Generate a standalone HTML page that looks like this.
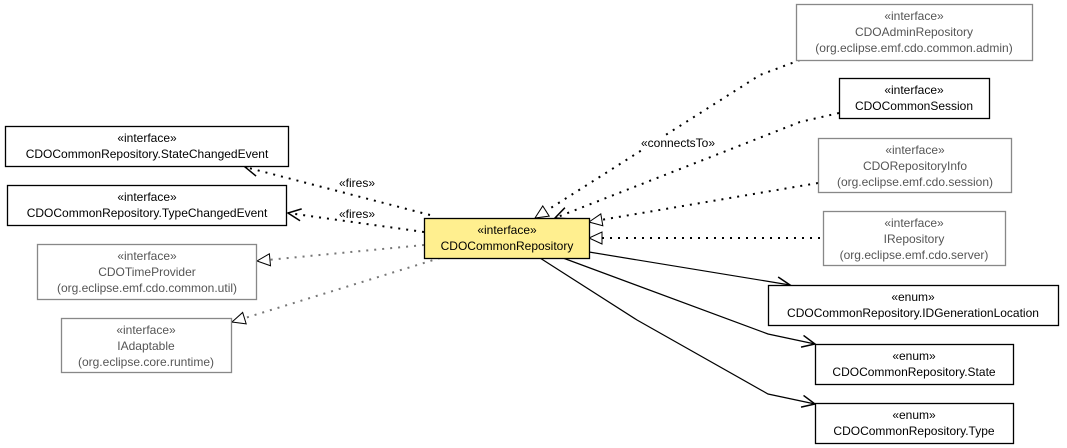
<!DOCTYPE html>
<html><head><meta charset="utf-8"><style>
html,body{margin:0;padding:0;background:#fff;}
svg{display:block;}
text{font-family:"Liberation Sans",sans-serif;font-size:12px;text-anchor:middle;}
</style></head><body>
<svg width="1067" height="448" viewBox="0 0 1067 448" xmlns="http://www.w3.org/2000/svg">
<defs>
<marker id="op" markerWidth="16" markerHeight="14" refX="14" refY="7" orient="auto" markerUnits="userSpaceOnUse">
<path d="M1,1 L14,7 L1,13" fill="none" stroke="#000" stroke-width="1.5"/></marker>
<marker id="tri" markerWidth="16" markerHeight="14" refX="14" refY="7" orient="auto" markerUnits="userSpaceOnUse">
<path d="M1,1 L14,7 L1,13 Z" fill="#fff" stroke="#000" stroke-width="1"/></marker>
</defs>
<g fill="none" stroke="#000" stroke-width="2" stroke-dasharray="2,6">
<line x1="430" y1="215" x2="245" y2="167" marker-end="url(#op)"/>
<line x1="424" y1="232" x2="288" y2="213" marker-end="url(#op)"/>
<line x1="424" y1="245" x2="257" y2="261" marker-end="url(#tri)" stroke="#777"/>
<line x1="440" y1="258" x2="232" y2="322" marker-end="url(#tri)" stroke="#777"/>
<polyline points="800,60 760,75 535,218" marker-end="url(#tri)"/>
<polyline points="839,113 800,122 555,218" marker-end="url(#op)"/>
<line x1="818" y1="183" x2="589" y2="222" marker-end="url(#tri)"/>
<line x1="820" y1="238" x2="589" y2="238" marker-end="url(#tri)"/>
</g>
<g fill="none" stroke="#000" stroke-width="1.2">
<line x1="589" y1="252" x2="790" y2="285" marker-end="url(#op)"/>
<polyline points="563,258 768,334 815,344" marker-end="url(#op)"/>
<polyline points="540,258 637,320 768,394 815,404" marker-end="url(#op)"/>
</g>
<g fill="#fff" stroke="#000" stroke-width="1.3">
<rect x="5.5" y="126.5" width="283" height="40"/>
<rect x="7.5" y="185.5" width="279" height="40"/>
<rect x="839.5" y="78.5" width="150" height="40"/>
<rect x="768.5" y="285.5" width="290" height="40"/>
<rect x="815.5" y="344.5" width="198" height="40"/>
<rect x="815.5" y="403.5" width="198" height="40"/>
</g>
<g fill="#fff" stroke="#888" stroke-width="1.3">
<rect x="37.5" y="244.5" width="219" height="55"/>
<rect x="61.5" y="318.5" width="170" height="54"/>
<rect x="796.5" y="4.5" width="236" height="56"/>
<rect x="818.5" y="138.5" width="193" height="54"/>
<rect x="823.5" y="211.5" width="182" height="54"/>
</g>
<rect x="424.5" y="218.5" width="165" height="40" fill="#ffef8f" stroke="#000" stroke-width="1.3"/>
<rect x="638" y="136" width="80" height="14" fill="#fff"/>
<g fill="#000">
<text x="147" y="142">«interface»</text><text x="147" y="158">CDOCommonRepository.StateChangedEvent</text>
<text x="147" y="201">«interface»</text><text x="147" y="217">CDOCommonRepository.TypeChangedEvent</text>
<text x="507" y="234">«interface»</text><text x="507" y="250">CDOCommonRepository</text>
<text x="914" y="94">«interface»</text><text x="914" y="110">CDOCommonSession</text>
<text x="913" y="301">«enum»</text><text x="913" y="317">CDOCommonRepository.IDGenerationLocation</text>
<text x="914" y="360">«enum»</text><text x="914" y="376">CDOCommonRepository.State</text>
<text x="914" y="419">«enum»</text><text x="914" y="435">CDOCommonRepository.Type</text>
<text x="357" y="187">«fires»</text>
<text x="357" y="218">«fires»</text>
<text x="678" y="147">«connectsTo»</text>
</g>
<g fill="#555">
<text x="147" y="260">«interface»</text><text x="147" y="276">CDOTimeProvider</text><text x="147" y="292">(org.eclipse.emf.cdo.common.util)</text>
<text x="146" y="334">«interface»</text><text x="146" y="350">IAdaptable</text><text x="146" y="366">(org.eclipse.core.runtime)</text>
<text x="914" y="20">«interface»</text><text x="914" y="36">CDOAdminRepository</text><text x="914" y="52">(org.eclipse.emf.cdo.common.admin)</text>
<text x="915" y="154">«interface»</text><text x="915" y="170">CDORepositoryInfo</text><text x="915" y="186">(org.eclipse.emf.cdo.session)</text>
<text x="914" y="227">«interface»</text><text x="914" y="243">IRepository</text><text x="914" y="259">(org.eclipse.emf.cdo.server)</text>
</g>
</svg>
</body></html>
